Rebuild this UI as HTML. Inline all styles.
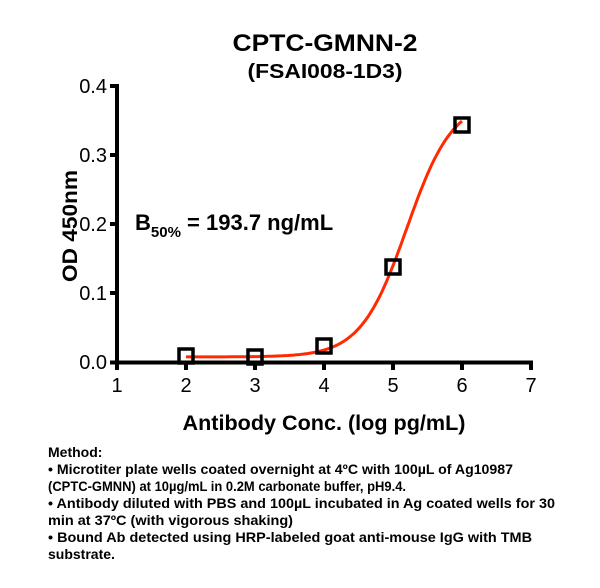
<!DOCTYPE html>
<html><head><meta charset="utf-8"><style>
html,body{margin:0;padding:0;background:#fff;}
svg{display:block;font-family:"Liberation Sans",Arial,sans-serif;}
</style></head><body>
<svg width="600" height="588" viewBox="0 0 600 588" xmlns="http://www.w3.org/2000/svg">
<text x="325" y="51" font-size="24" font-weight="bold" text-anchor="middle" textLength="185" lengthAdjust="spacingAndGlyphs">CPTC-GMNN-2</text>
<text x="325" y="78" font-size="20" font-weight="bold" text-anchor="middle" textLength="155" lengthAdjust="spacingAndGlyphs">(FSAI008-1D3)</text>
<g stroke="#000" stroke-width="4" fill="none">
<line x1="117" y1="84" x2="117" y2="364"/>
<line x1="115" y1="362.5" x2="533" y2="362.5"/>
<line x1="110" y1="86" x2="117" y2="86"/>
<line x1="110" y1="155" x2="117" y2="155"/>
<line x1="110" y1="224" x2="117" y2="224"/>
<line x1="110" y1="293" x2="117" y2="293"/>
<line x1="110" y1="362.5" x2="117" y2="362.5"/>
<line x1="117" y1="362" x2="117" y2="370"/>
<line x1="186" y1="362" x2="186" y2="370"/>
<line x1="255" y1="362" x2="255" y2="370"/>
<line x1="324" y1="362" x2="324" y2="370"/>
<line x1="393" y1="362" x2="393" y2="370"/>
<line x1="462" y1="362" x2="462" y2="370"/>
<line x1="531" y1="362" x2="531" y2="370"/>
</g>
<g font-size="20" text-anchor="end">
<text x="107" y="93">0.4</text>
<text x="107" y="162">0.3</text>
<text x="107" y="231">0.2</text>
<text x="107" y="300">0.1</text>
<text x="107" y="369">0.0</text>
</g>
<g font-size="20" text-anchor="middle">
<text x="117" y="392">1</text><text x="186" y="392">2</text><text x="255" y="392">3</text>
<text x="324" y="392">4</text><text x="393" y="392">5</text><text x="462" y="392">6</text><text x="531" y="392">7</text>
</g>
<text x="324" y="430" font-size="21" font-weight="bold" text-anchor="middle" textLength="283" lengthAdjust="spacingAndGlyphs">Antibody Conc. (log pg/mL)</text>
<text transform="translate(77,226) rotate(-90)" font-size="21" font-weight="bold" text-anchor="middle" textLength="112" lengthAdjust="spacingAndGlyphs">OD 450nm</text>
<text x="135" y="230" font-size="22" font-weight="bold">B<tspan font-size="15" dy="7">50%</tspan><tspan dy="-7"> = 193.7 ng/mL</tspan></text>
<path id="curve" d="" stroke="#ff2a00" stroke-width="3" fill="none"/>
<g stroke="#000" stroke-width="3.5" fill="none">
<rect x="179" y="349" width="14" height="14"/>
<rect x="248" y="350" width="14" height="14"/>
<rect x="317" y="339" width="14" height="14"/>
<rect x="386" y="260" width="14" height="14"/>
<rect x="455" y="118" width="14" height="14"/>
</g>
<g font-size="14" font-weight="bold">
<text x="48" y="457">Method:</text>
<text x="48" y="474" textLength="465" lengthAdjust="spacingAndGlyphs">• Microtiter plate wells coated overnight at 4ºC  with 100µL of Ag10987</text>
<text x="48" y="491" textLength="358" lengthAdjust="spacingAndGlyphs">(CPTC-GMNN) at 10µg/mL in 0.2M carbonate buffer, pH9.4.</text>
<text x="48" y="508" textLength="507" lengthAdjust="spacingAndGlyphs">• Antibody diluted with PBS and 100µL incubated in Ag coated wells for 30</text>
<text x="48" y="525" textLength="245" lengthAdjust="spacingAndGlyphs">min at 37ºC (with vigorous shaking)</text>
<text x="48" y="542" textLength="484" lengthAdjust="spacingAndGlyphs">• Bound Ab detected using HRP-labeled goat anti-mouse IgG with TMB</text>
<text x="48" y="559">substrate.</text>
</g>
<script>
var d="";for(var i=0;i<=100;i++){var lx=2+4*i/100;var y=0.008+0.372/(1+Math.pow(10,1.3*(5.2-lx)));
var px=117+(lx-1)*69, py=362.5-y*692;d+=(i?"L":"M")+px.toFixed(1)+","+py.toFixed(1);}
document.getElementById("curve").setAttribute("d",d);
</script>
</svg>
</body></html>
